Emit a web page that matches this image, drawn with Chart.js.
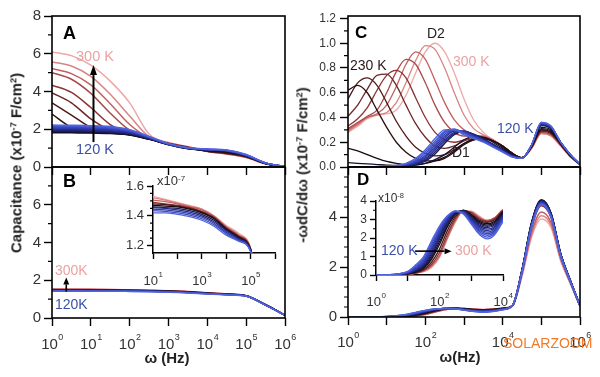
<!DOCTYPE html>
<html><head><meta charset="utf-8">
<script src="https://cdn.jsdelivr.net/npm/chart.js"></script>
<style>
body{margin:0;background:#fff;width:600px;height:377px;overflow:hidden;font-family:"Liberation Sans",Arial,sans-serif;}
canvas{position:absolute;left:0;top:0;}
.t{position:absolute;white-space:nowrap;line-height:1;}
.b{font-weight:bold;}
.s{font-size:0.62em;position:relative;top:-0.55em;}
.rot{position:absolute;white-space:nowrap;line-height:1;font-weight:bold;font-size:15px;color:#222;transform:translate(-50%,-50%) rotate(-90deg);}
</style></head><body>
<canvas id="cA" width="600" height="377"></canvas>
<canvas id="cB" width="600" height="377"></canvas>
<canvas id="cC" width="600" height="377"></canvas>
<canvas id="cD" width="600" height="377"></canvas>
<canvas id="cBi" width="600" height="377"></canvas>
<canvas id="cDi" width="600" height="377"></canvas>

<div class="rot" style="left:16px;top:163px;">Capacitance (x10<span class="s">-7</span> F/cm<span class="s">2</span>)</div>
<div class="rot" style="left:302px;top:165px;">-ωdC/dω (x10<span class="s">-7</span> F/cm<span class="s">2</span>)</div>

<div class="t b" style="left:63px;top:24px;font-size:18px;">A</div>
<div class="t b" style="left:63px;top:172px;font-size:18px;">B</div>
<div class="t b" style="left:355px;top:24px;font-size:17px;">C</div>
<div class="t b" style="left:357px;top:171px;font-size:17px;">D</div>

<div class="t" style="left:76px;top:49px;font-size:14.5px;color:#e9a3a3;">300 K</div>
<div class="t" style="left:76px;top:142px;font-size:14.5px;color:#3d50a8;">120 K</div>
<div class="t" style="left:55px;top:263px;font-size:14px;color:#e9a3a3;">300K</div>
<div class="t" style="left:55px;top:297px;font-size:14px;color:#3d50a8;">120K</div>

<div class="t" style="left:427px;top:26px;font-size:14px;color:#222;">D2</div>
<div class="t" style="left:350px;top:58px;font-size:14px;color:#2a1515;">230 K</div>
<div class="t" style="left:453px;top:54px;font-size:14px;color:#e9a3a3;">300 K</div>
<div class="t" style="left:497px;top:121px;font-size:14px;color:#3d50a8;">120 K</div>
<div class="t" style="left:452px;top:145px;font-size:14px;color:#222;">D1</div>

<div class="t" style="left:381px;top:243px;font-size:14px;color:#3d50a8;">120 K</div>
<div class="t" style="left:455px;top:243px;font-size:14px;color:#e9a3a3;">300 K</div>

<div class="t" style="left:157px;top:174px;font-size:13px;color:#333;">x10<span class="s">-7</span></div>
<div class="t" style="left:378px;top:192px;font-size:12px;color:#333;">x10<span class="s">-8</span></div>

<div class="t b" style="left:167px;top:350px;font-size:15px;color:#222;transform:translateX(-50%);">ω (Hz)</div>
<div class="t b" style="left:460px;top:349px;font-size:15px;color:#222;transform:translateX(-50%);">ω(Hz)</div>
<div class="t" style="left:503px;top:336px;font-size:14px;color:#f07a28;">SOLARZOOM</div>

<script>
// ---------- frequency grids (Hz) ----------
const freqHalfDecade = [1, 3.162, 10, 31.62, 100, 316.2, 1000, 3162, 1e4, 31623, 1e5, 316228, 1e6];
const freqQuarterDecade = [1, 1.778, 3.162, 5.623, 10, 17.78, 31.62, 56.23, 100, 177.8, 316.2, 562.3, 1000, 1778, 3162, 5623, 1e4, 17783, 31623, 56234, 1e5, 177828, 316228, 562341, 1e6];
const decadeTicks = [1, 10, 100, 1e3, 1e4, 1e5, 1e6];
const decadeTicksInsetB = [10, 100, 1e3, 1e4, 1e5, 1e6];
const decadeTicksInsetD = [1, 10, 100, 1e3, 1e4];

// ---------- tick labels ----------
const capTicksA = [0, 2, 4, 6, 8];
const capTicksB = [0, 2, 4, 6];
const capTicksInset = [1.2, 1.4, 1.6];
const derivTicksC = [0, 0.2, 0.4, 0.6, 0.8, 1.0, 1.2];
const derivTicksD = [0, 2, 4];
const derivTicksInset = [0, 1, 2, 3, 4];

// ---------- temperatures (K) ----------
const tempsA = [120,130,140,150,160,170,180,190,200,210,220,230,240,250,260,270,280,290,300];
const tempsB = [120,140,160,180,200,220,240,260,280,290,300];
const tempsC = [120,130,140,150,160,170,180,190,200,210,220,230,240,250,260,270,280,290,300];
const tempsD = [120,130,140,150,160,170,180,190,200,210,220,240,260,280,290,300];

// ---------- Panel A: capacitance (x1e-7 F/cm2), half-decade grid ----------
const capA_120 = [2.22,2.21,2.19,2.14,1.98,1.62,1.24,1.02,0.95,0.90,0.66,0.22,0.02];
const capA_130 = [2.18,2.17,2.15,2.10,1.95,1.60,1.23,1.02,0.94,0.89,0.65,0.22,0.02];
const capA_140 = [2.14,2.13,2.11,2.06,1.92,1.59,1.22,1.01,0.94,0.88,0.64,0.21,0.02];
const capA_150 = [2.10,2.09,2.07,2.02,1.89,1.57,1.22,1.01,0.93,0.88,0.63,0.21,0.02];
const capA_160 = [2.06,2.05,2.03,1.98,1.86,1.56,1.21,1.00,0.93,0.87,0.62,0.21,0.02];
const capA_170 = [2.02,2.01,1.99,1.94,1.83,1.54,1.21,1.00,0.92,0.86,0.61,0.20,0.02];
const capA_180 = [1.98,1.97,1.95,1.90,1.80,1.53,1.20,0.99,0.92,0.86,0.60,0.20,0.02];
const capA_190 = [1.94,1.93,1.91,1.87,1.77,1.51,1.20,0.99,0.91,0.85,0.60,0.20,0.02];
const capA_200 = [1.90,1.89,1.87,1.83,1.74,1.50,1.19,0.98,0.90,0.84,0.59,0.20,0.02];
const capA_210 = [1.86,1.85,1.83,1.80,1.72,1.49,1.19,0.98,0.90,0.83,0.58,0.19,0.02];
const capA_220 = [1.82,1.81,1.80,1.77,1.70,1.48,1.18,0.97,0.89,0.82,0.57,0.19,0.02];
const capA_230 = [2.80,2.10,1.86,1.80,1.70,1.47,1.21,1.02,0.85,0.75,0.56,0.19,0.02];
const capA_240 = [3.40,2.75,2.10,1.85,1.72,1.48,1.22,1.03,0.85,0.74,0.56,0.19,0.02];
const capA_250 = [3.93,3.40,2.55,1.95,1.75,1.49,1.23,1.03,0.84,0.73,0.55,0.19,0.02];
const capA_260 = [4.34,3.95,3.15,2.25,1.80,1.50,1.24,1.04,0.84,0.72,0.54,0.18,0.02];
const capA_270 = [5.00,4.65,3.90,2.85,1.95,1.52,1.25,1.05,0.83,0.71,0.53,0.18,0.02];
const capA_280 = [5.22,4.95,4.35,3.35,2.25,1.55,1.26,1.06,0.83,0.70,0.52,0.17,0.02];
const capA_290 = [5.57,5.35,4.80,3.85,2.70,1.60,1.28,1.07,0.82,0.69,0.51,0.17,0.02];
const capA_300 = [6.10,5.90,5.40,4.55,3.40,1.75,1.30,1.08,0.82,0.68,0.50,0.16,0.02];

// ---------- Panel B: capacitance (x1e-7 F/cm2), half-decade grid ----------
const capB_120 = [1.43,1.43,1.42,1.42,1.41,1.395,1.37,1.33,1.27,1.23,1.16,0.68,0.15];
const capB_140 = [1.44,1.44,1.435,1.43,1.42,1.405,1.38,1.34,1.28,1.235,1.16,0.68,0.15];
const capB_160 = [1.45,1.45,1.445,1.44,1.43,1.415,1.39,1.35,1.29,1.24,1.165,0.69,0.15];
const capB_180 = [1.46,1.46,1.455,1.45,1.44,1.425,1.40,1.36,1.30,1.245,1.165,0.69,0.15];
const capB_200 = [1.465,1.465,1.46,1.455,1.45,1.435,1.41,1.37,1.305,1.25,1.17,0.69,0.15];
const capB_220 = [1.475,1.475,1.47,1.465,1.46,1.445,1.42,1.38,1.31,1.255,1.17,0.70,0.15];
const capB_240 = [1.485,1.485,1.48,1.475,1.465,1.45,1.425,1.385,1.315,1.26,1.175,0.70,0.15];
const capB_260 = [1.50,1.50,1.49,1.48,1.47,1.455,1.43,1.39,1.32,1.265,1.175,0.70,0.15];
const capB_280 = [1.52,1.515,1.505,1.495,1.48,1.46,1.44,1.395,1.325,1.27,1.18,0.70,0.15];
const capB_290 = [1.535,1.53,1.52,1.505,1.485,1.465,1.445,1.40,1.33,1.275,1.18,0.70,0.15];
const capB_300 = [1.55,1.545,1.53,1.51,1.49,1.47,1.445,1.40,1.335,1.285,1.18,0.70,0.15];

// ---------- Panel C: -w dC/dw (x1e-7 F/cm2), quarter-decade grid ----------
const derC_120 = [0,0,0,0.003,0.006,0.012,0.03,0.07,0.14,0.23,0.30,0.30,0.26,0.23,0.20,0.16,0.12,0.08,0.07,0.18,0.36,0.33,0.20,0.10,0.02];
const derC_130 = [0,0,0,0.002,0.005,0.01,0.026,0.06,0.125,0.21,0.29,0.305,0.27,0.235,0.205,0.165,0.122,0.082,0.07,0.18,0.36,0.33,0.20,0.10,0.02];
const derC_140 = [0,0,0,0.002,0.004,0.009,0.022,0.052,0.11,0.195,0.28,0.305,0.275,0.24,0.21,0.168,0.124,0.084,0.07,0.18,0.355,0.33,0.20,0.10,0.02];
const derC_150 = [0,0,0,0.002,0.004,0.008,0.019,0.045,0.095,0.18,0.265,0.30,0.28,0.245,0.213,0.17,0.126,0.085,0.07,0.18,0.355,0.325,0.20,0.10,0.02];
const derC_160 = [0,0,0,0.001,0.003,0.007,0.016,0.038,0.085,0.165,0.25,0.295,0.285,0.25,0.215,0.172,0.128,0.086,0.07,0.18,0.35,0.325,0.20,0.10,0.02];
const derC_170 = [0,0,0,0.001,0.003,0.006,0.014,0.033,0.075,0.15,0.235,0.29,0.288,0.255,0.218,0.175,0.13,0.088,0.072,0.18,0.35,0.32,0.20,0.10,0.02];
const derC_180 = [0,0,0,0.001,0.002,0.005,0.012,0.028,0.065,0.135,0.22,0.28,0.29,0.26,0.22,0.178,0.133,0.09,0.072,0.175,0.345,0.32,0.20,0.10,0.02];
const derC_190 = [0,0,0,0.001,0.002,0.004,0.01,0.024,0.056,0.12,0.205,0.27,0.29,0.263,0.225,0.18,0.136,0.092,0.073,0.175,0.34,0.315,0.195,0.10,0.02];
const derC_200 = [0,0,0,0.001,0.002,0.004,0.009,0.02,0.048,0.105,0.19,0.26,0.288,0.265,0.23,0.185,0.14,0.095,0.074,0.175,0.335,0.31,0.195,0.10,0.02];
const derC_210 = [0.035,0.03,0.025,0.02,0.015,0.012,0.012,0.015,0.03,0.06,0.10,0.16,0.22,0.25,0.24,0.20,0.15,0.10,0.075,0.17,0.32,0.30,0.19,0.09,0.02];
const derC_220 = [0.15,0.13,0.10,0.07,0.045,0.03,0.02,0.02,0.03,0.05,0.08,0.13,0.19,0.23,0.24,0.21,0.16,0.10,0.075,0.17,0.31,0.29,0.19,0.09,0.02];
const derC_230 = [0.62,0.66,0.60,0.46,0.32,0.20,0.12,0.07,0.05,0.05,0.07,0.12,0.18,0.22,0.23,0.21,0.17,0.11,0.075,0.165,0.30,0.28,0.19,0.09,0.02];
const derC_240 = [0.55,0.68,0.72,0.66,0.52,0.37,0.25,0.16,0.11,0.09,0.10,0.14,0.19,0.22,0.23,0.21,0.17,0.11,0.075,0.165,0.30,0.28,0.19,0.09,0.02];
const derC_250 = [0.41,0.50,0.63,0.74,0.75,0.66,0.50,0.35,0.24,0.17,0.15,0.17,0.21,0.23,0.23,0.21,0.17,0.11,0.075,0.16,0.29,0.27,0.18,0.09,0.02];
const derC_260 = [0.33,0.39,0.48,0.62,0.74,0.78,0.72,0.56,0.40,0.28,0.22,0.20,0.22,0.24,0.24,0.21,0.17,0.11,0.075,0.16,0.29,0.27,0.18,0.09,0.02];
const derC_270 = [0.31,0.36,0.41,0.46,0.60,0.77,0.87,0.83,0.68,0.50,0.36,0.28,0.25,0.25,0.24,0.21,0.17,0.11,0.075,0.16,0.28,0.26,0.18,0.09,0.02];
const derC_280 = [0.30,0.35,0.40,0.43,0.50,0.65,0.83,0.93,0.87,0.70,0.52,0.38,0.30,0.26,0.25,0.22,0.17,0.11,0.075,0.155,0.28,0.26,0.18,0.085,0.02];
const derC_290 = [0.29,0.34,0.40,0.42,0.44,0.52,0.68,0.86,0.98,0.95,0.80,0.60,0.42,0.31,0.26,0.22,0.17,0.11,0.075,0.15,0.27,0.25,0.17,0.08,0.02];
const derC_300 = [0.28,0.33,0.39,0.42,0.43,0.46,0.58,0.76,0.93,1.00,0.93,0.76,0.55,0.38,0.28,0.22,0.17,0.11,0.075,0.15,0.27,0.25,0.17,0.08,0.02];

// ---------- Panel D (x1e-7 F/cm2), quarter-decade grid ----------
const derD_120 = [0,0,0.003,0.008,0.02,0.055,0.10,0.185,0.265,0.32,0.345,0.33,0.275,0.22,0.195,0.22,0.29,0.45,1.80,3.60,4.50,4.00,2.45,1.42,0.45];
const derD_130 = [0,0,0.003,0.007,0.018,0.05,0.092,0.175,0.258,0.318,0.345,0.333,0.28,0.228,0.205,0.228,0.295,0.45,1.80,3.62,4.52,4.00,2.45,1.42,0.45];
const derD_140 = [0,0,0.002,0.006,0.016,0.045,0.085,0.165,0.25,0.315,0.345,0.336,0.285,0.236,0.215,0.235,0.30,0.45,1.82,3.64,4.54,4.02,2.46,1.43,0.45];
const derD_150 = [0,0,0.002,0.005,0.014,0.04,0.078,0.155,0.242,0.31,0.344,0.338,0.29,0.243,0.224,0.242,0.305,0.45,1.82,3.66,4.56,4.04,2.47,1.43,0.45];
const derD_160 = [0,0,0.002,0.005,0.012,0.035,0.071,0.145,0.234,0.305,0.343,0.34,0.295,0.25,0.232,0.25,0.31,0.45,1.83,3.68,4.58,4.06,2.48,1.44,0.45];
const derD_170 = [0,0,0.002,0.004,0.011,0.031,0.065,0.135,0.225,0.30,0.342,0.342,0.30,0.257,0.24,0.257,0.315,0.45,1.84,3.70,4.60,4.08,2.49,1.44,0.45];
const derD_180 = [0,0,0.001,0.004,0.01,0.028,0.058,0.125,0.215,0.295,0.34,0.344,0.305,0.264,0.248,0.264,0.32,0.45,1.85,3.72,4.62,4.10,2.50,1.45,0.45];
const derD_190 = [0,0,0.001,0.003,0.009,0.025,0.052,0.115,0.205,0.288,0.338,0.346,0.31,0.27,0.256,0.271,0.325,0.45,1.86,3.74,4.64,4.12,2.51,1.45,0.45];
const derD_200 = [0,0,0.001,0.003,0.008,0.022,0.047,0.105,0.195,0.28,0.335,0.347,0.315,0.277,0.263,0.278,0.33,0.45,1.87,3.76,4.66,4.14,2.52,1.46,0.45];
const derD_210 = [0,0,0.001,0.003,0.007,0.019,0.042,0.095,0.18,0.27,0.33,0.348,0.32,0.283,0.27,0.285,0.335,0.45,1.88,3.78,4.68,4.15,2.53,1.46,0.45];
const derD_220 = [0,0,0.001,0.002,0.006,0.016,0.037,0.085,0.165,0.26,0.325,0.349,0.325,0.29,0.277,0.292,0.34,0.45,1.88,3.78,4.68,4.15,2.53,1.46,0.45];
const derD_240 = [0,0,0.001,0.002,0.005,0.013,0.03,0.07,0.14,0.24,0.315,0.35,0.33,0.297,0.284,0.30,0.345,0.45,1.87,3.75,4.66,4.14,2.53,1.46,0.45];
const derD_260 = [0,0,0.001,0.002,0.005,0.011,0.025,0.058,0.12,0.22,0.305,0.348,0.337,0.305,0.29,0.307,0.35,0.44,1.80,3.60,4.45,3.98,2.45,1.42,0.44];
const derD_280 = [0,0,0.001,0.002,0.004,0.01,0.022,0.05,0.105,0.205,0.295,0.345,0.34,0.31,0.293,0.31,0.352,0.44,1.72,3.40,4.20,3.78,2.35,1.38,0.43];
const derD_290 = [0,0,0.001,0.002,0.004,0.01,0.02,0.045,0.10,0.20,0.29,0.345,0.343,0.315,0.295,0.31,0.354,0.44,1.68,3.30,4.05,3.68,2.30,1.35,0.43];
const derD_300 = [0,0,0.001,0.002,0.004,0.009,0.018,0.04,0.095,0.195,0.285,0.345,0.345,0.318,0.296,0.312,0.355,0.44,1.62,3.20,3.92,3.58,2.25,1.33,0.42];

// ---------- assemble ----------
const seriesA = [capA_120,capA_130,capA_140,capA_150,capA_160,capA_170,capA_180,capA_190,capA_200,capA_210,capA_220,capA_230,capA_240,capA_250,capA_260,capA_270,capA_280,capA_290,capA_300];
const seriesB = [capB_120,capB_140,capB_160,capB_180,capB_200,capB_220,capB_240,capB_260,capB_280,capB_290,capB_300];
const seriesC = [derC_120,derC_130,derC_140,derC_150,derC_160,derC_170,derC_180,derC_190,derC_200,derC_210,derC_220,derC_230,derC_240,derC_250,derC_260,derC_270,derC_280,derC_290,derC_300];
const seriesD = [derD_120,derD_130,derD_140,derD_150,derD_160,derD_170,derD_180,derD_190,derD_200,derD_210,derD_220,derD_240,derD_260,derD_280,derD_290,derD_300];

const colorStops = [[120,[80,100,220]],[150,[52,66,185]],[180,[36,42,135]],[200,[26,26,80]],[215,[18,14,32]],[225,[28,10,10]],[240,[80,25,25]],[260,[140,50,50]],[280,[196,96,96]],[300,[238,168,168]]];
function tColor(T){
  for (let i=0;i<colorStops.length-1;i++){
    const [t0,c0]=colorStops[i],[t1,c1]=colorStops[i+1];
    if (T<=t1){const f=(T-t0)/(t1-t0);return 'rgb('+c0.map((c,k)=>Math.round(c+(c1[k]-c)*f)).join(',')+')';}
  }
  return 'rgb(238,168,168)';
}

const FAM = '"Liberation Sans", Arial, sans-serif';
Chart.defaults.font.family = FAM;
Chart.defaults.color = '#333';

function drawArrow(ctx,x0,y0,x1,y1,lw,hl,hw){
  const a=Math.atan2(y1-y0,x1-x0), bx=x1-hl*Math.cos(a), by=y1-hl*Math.sin(a);
  ctx.lineWidth=lw; ctx.beginPath(); ctx.moveTo(x0,y0); ctx.lineTo(bx,by); ctx.stroke();
  ctx.beginPath(); ctx.moveTo(x1,y1);
  ctx.lineTo(bx+hw*Math.sin(a),by-hw*Math.cos(a)); ctx.lineTo(bx-hw*Math.sin(a),by+hw*Math.cos(a));
  ctx.closePath(); ctx.fill();
}

const deco = {
  id:'deco',
  afterDatasetsDraw(chart,args,o){
    const ctx=chart.ctx,a=chart.chartArea,xs=chart.scales.x,ys=chart.scales.y;
    ctx.save(); ctx.strokeStyle='#000'; ctx.fillStyle='#000';
    if (o.yMinor && o.yMinor.length){
      ctx.lineWidth=1.2; ctx.beginPath();
      for (const v of o.yMinor){const y=ys.getPixelForValue(v);ctx.moveTo(a.left,y);ctx.lineTo(a.left-o.minorLen,y);}
      ctx.stroke();
    }
    if (o.frame){ctx.lineWidth=1.6;ctx.strokeRect(a.left,a.top,a.right-a.left,a.bottom-a.top);}
    if (o.exps && o.exps.length){
      ctx.fillStyle='#333'; ctx.textBaseline='alphabetic'; ctx.textAlign='left';
      for (const e of o.exps){
        const x=xs.getPixelForValue(Math.pow(10,e));
        ctx.font=o.expSize+'px '+FAM; const w1=ctx.measureText('10').width;
        ctx.font=o.supSize+'px '+FAM; const w2=ctx.measureText(String(e)).width;
        const x0=x-(w1+w2)/2, yb=a.bottom+o.expOff;
        ctx.font=o.expSize+'px '+FAM; ctx.fillText('10',x0,yb);
        ctx.font=o.supSize+'px '+FAM; ctx.fillText(String(e),x0+w1+0.5,yb-o.expSize*0.6);
      }
      ctx.fillStyle='#000';
    }
    if (o.arrows){
      for (const r of o.arrows){
        drawArrow(ctx,xs.getPixelForValue(r.x0),ys.getPixelForValue(r.y0),xs.getPixelForValue(r.x1),ys.getPixelForValue(r.y1),r.lw,r.hl,r.hw);
      }
    }
    ctx.restore();
  }
};
Chart.register(deco);

function makeChart(id, box, o){
  const W=600,H=377,yW=40,xH=30;
  const datasets=o.series.map((arr,i)=>({
    data:arr.map((v,k)=>({x:o.freq[k],y:v*(o.unit||1)})),
    borderColor:tColor(o.temps[i]),
    borderWidth:o.lw,
    pointRadius:0,
    fill:false,
    cubicInterpolationMode:'monotone'
  }));
  const gridOpt={display:true,drawOnChartArea:false,drawTicks:true,tickLength:o.tickLen,tickColor:'#000',tickWidth:1.4};
  const borderOpt={display:!!o.axisLines,color:'#000',width:1.5};
  return new Chart(document.getElementById(id),{
    type:'line',
    data:{datasets},
    options:{
      responsive:false,animation:false,devicePixelRatio:1,events:[],
      layout:{padding:{left:box.l-yW,top:box.t,right:W-box.r,bottom:H-box.b-xH}},
      plugins:{legend:{display:false},tooltip:{enabled:false},
        deco:{frame:!!o.frame,yMinor:o.yMinor||[],minorLen:o.minorLen||4,exps:o.exps||[],expSize:o.expSize||15,supSize:o.supSize||9,expOff:o.expOff||31,arrows:o.arrows||[]}},
      scales:{
        x:{type:'logarithmic',min:o.xMin,max:o.xMax,
           afterBuildTicks:s=>{s.ticks=o.xTicks.map(v=>({value:v}));},
           afterFit:s=>{s.height=xH;},
           ticks:{display:false},grid:gridOpt,border:borderOpt},
        y:{type:'linear',min:o.yMin,max:o.yMax,
           afterBuildTicks:s=>{s.ticks=o.yTicks.map(v=>({value:v}));},
           afterFit:s=>{s.width=yW;},
           ticks:{callback:o.yFmt,font:{size:o.yFont},color:'#333',padding:o.yPad||3},
           grid:gridOpt,border:borderOpt}
      }
    }
  });
}

// Panel A
makeChart('cA',{l:52,t:16,r:285,b:167},{series:seriesA,temps:tempsA,freq:freqHalfDecade,lw:1.5,
  xMin:1,xMax:1e6,xTicks:decadeTicks,yMin:0,yMax:8,yTicks:capTicksA,yFmt:v=>String(v),yFont:15,
  tickLen:8,frame:true,yMinor:[1,3,5,7],minorLen:4,
  arrows:[{x0:11.7,y0:1.32,x1:11.7,y1:5.4,lw:2,hl:10,hw:3.5}]});
// Panel B
makeChart('cB',{l:52,t:167,r:285,b:318},{series:seriesB,temps:tempsB,freq:freqHalfDecade,lw:1.5,
  xMin:1,xMax:1e6,xTicks:decadeTicks,yMin:0,yMax:8,yTicks:capTicksB,yFmt:v=>String(v),yFont:15,
  tickLen:8,frame:true,yMinor:[1,3,5,7],minorLen:4,exps:[0,1,2,3,4,5,6],expSize:15,supSize:9,expOff:31,
  arrows:[{x0:2.33,y0:1.4,x1:2.33,y1:2.15,lw:1.6,hl:7,hw:3}]});
// Panel C
makeChart('cC',{l:348,t:16,r:580,b:167},{series:seriesC,temps:tempsC,freq:freqQuarterDecade,lw:1.3,
  xMin:1,xMax:1e6,xTicks:decadeTicks,yMin:0,yMax:1.22,yTicks:derivTicksC,yFmt:v=>v.toFixed(1),yFont:12,
  tickLen:8,frame:true,yMinor:[0.1,0.3,0.5,0.7,0.9,1.1],minorLen:4,yPad:4});
// Panel D
makeChart('cD',{l:348,t:167,r:580,b:317},{series:seriesD,temps:tempsD,freq:freqQuarterDecade,lw:1.5,
  xMin:1,xMax:1e6,xTicks:decadeTicks,yMin:0,yMax:6,yTicks:derivTicksD,yFmt:v=>String(v),yFont:15,
  tickLen:8,frame:true,yMinor:[0.4,0.8,1.2,1.6,2.4,2.8,3.2,3.6,4.4,4.8,5.2,5.6],minorLen:4,
  exps:[0,2,4,6],expSize:15,supSize:9,expOff:30});
// Inset of B
makeChart('cBi',{l:153,t:186,r:275,b:253},{series:seriesB,temps:tempsB,freq:freqHalfDecade,lw:1.3,
  xMin:10,xMax:1e6,xTicks:decadeTicksInsetB,yMin:1.15,yMax:1.6,yTicks:capTicksInset,yFmt:v=>v.toFixed(1),yFont:13,
  tickLen:6,axisLines:true,yMinor:[1.25,1.3,1.35,1.45,1.5,1.55],minorLen:3,
  exps:[1,3,5],expSize:13,supSize:8,expOff:32});
// Inset of D (x1e-8 units)
makeChart('cDi',{l:376,t:201,r:503,b:275},{series:seriesD,temps:tempsD,freq:freqQuarterDecade,lw:1.3,unit:10,
  xMin:1,xMax:1e4,xTicks:decadeTicksInsetD,yMin:0,yMax:4,yTicks:derivTicksInset,yFmt:v=>String(v),yFont:12,
  tickLen:6,axisLines:true,yMinor:[0.5,1.5,2.5,3.5],minorLen:3,
  exps:[0,2,4],expSize:13,supSize:8,expOff:31,
  arrows:[{x0:17,y0:1.29,x1:240,y1:1.29,lw:1.6,hl:7,hw:3}]});
</script>
</body></html>
